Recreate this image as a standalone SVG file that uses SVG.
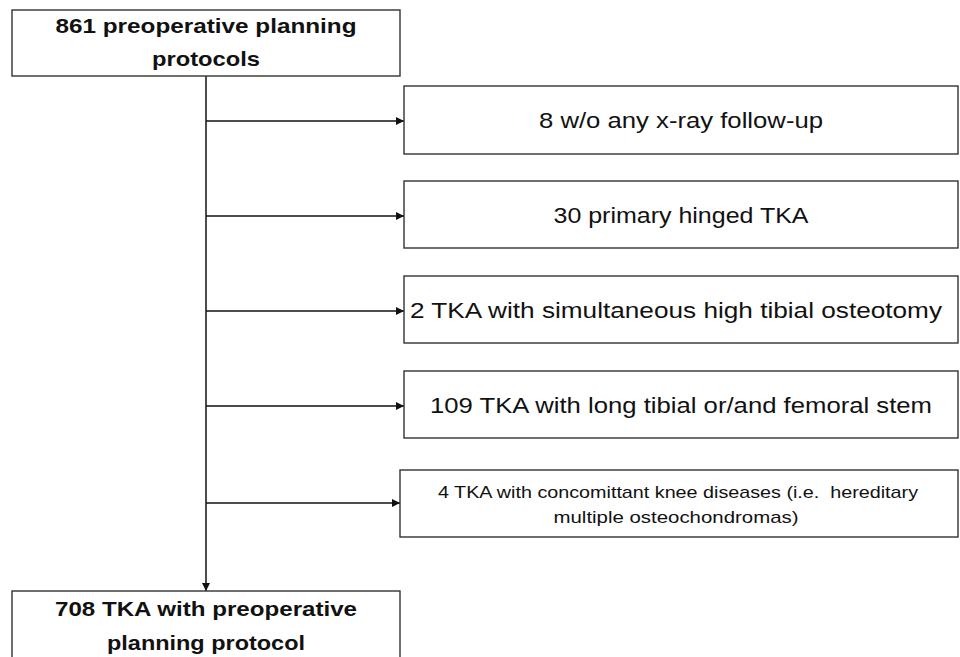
<svg xmlns="http://www.w3.org/2000/svg" width="960" height="657" viewBox="0 0 960 657">
<style>
.box{fill:#fff;stroke:#333;stroke-width:1.4}
.ln{stroke:#111;stroke-width:1.5;fill:none}
.b{font-family:"Liberation Sans",Arial,sans-serif;font-weight:bold;font-size:21px;fill:#111;text-anchor:middle}
.r{font-family:"Liberation Sans",Arial,sans-serif;font-size:22px;fill:#111;text-anchor:middle}
.s{font-family:"Liberation Sans",Arial,sans-serif;font-size:17px;fill:#111;text-anchor:middle}
</style>
<defs>
<marker id="ah" markerWidth="8" markerHeight="8" refX="8" refY="4" orient="auto" markerUnits="userSpaceOnUse">
<path d="M0,0 L8,4 L0,8 Z" fill="#111"/>
</marker>
</defs>
<rect width="960" height="657" fill="#fff"/>
<g id="connectors">
<line class="ln" x1="206" y1="76" x2="206" y2="591" marker-end="url(#ah)"/>
<line class="ln" x1="206" y1="121" x2="404" y2="121" marker-end="url(#ah)"/>
<line class="ln" x1="206" y1="216" x2="404" y2="216" marker-end="url(#ah)"/>
<line class="ln" x1="206" y1="311" x2="404" y2="311" marker-end="url(#ah)"/>
<line class="ln" x1="206" y1="406" x2="404" y2="406" marker-end="url(#ah)"/>
<line class="ln" x1="206" y1="503" x2="400" y2="503" marker-end="url(#ah)"/>
</g>
<g id="start">
<rect class="box" x="12" y="10" width="388" height="66"/>
<text class="b" x="206" y="33" textLength="301" lengthAdjust="spacingAndGlyphs">861 preoperative planning</text>
<text class="b" x="206" y="66" textLength="108" lengthAdjust="spacingAndGlyphs">protocols</text>
</g>
<g id="ex1">
<rect class="box" x="404" y="86" width="554" height="68"/>
<text class="r" x="681" y="128" textLength="284" lengthAdjust="spacingAndGlyphs">8 w/o any x-ray follow-up</text>
</g>
<g id="ex2">
<rect class="box" x="404" y="181" width="554" height="67"/>
<text class="r" x="681" y="223" textLength="255" lengthAdjust="spacingAndGlyphs">30 primary hinged TKA</text>
</g>
<g id="ex3">
<rect class="box" x="404" y="276" width="554" height="67"/>
<text class="r" x="676" y="318" textLength="532" lengthAdjust="spacingAndGlyphs">2 TKA with simultaneous high tibial osteotomy</text>
</g>
<g id="ex4">
<rect class="box" x="404" y="371" width="554" height="67"/>
<text class="r" x="681" y="413" textLength="502" lengthAdjust="spacingAndGlyphs">109 TKA with long tibial or/and femoral stem</text>
</g>
<g id="ex5">
<rect class="box" x="400" y="470" width="558" height="67"/>
<text class="s" x="678" y="498" textLength="480" lengthAdjust="spacingAndGlyphs">4 TKA with concomittant knee diseases (i.e.&#160; hereditary</text>
<text class="s" x="676" y="523" textLength="245" lengthAdjust="spacingAndGlyphs">multiple osteochondromas)</text>
</g>
<g id="end">
<rect class="box" x="12" y="591" width="388" height="80"/>
<text class="b" x="206" y="616" textLength="302" lengthAdjust="spacingAndGlyphs">708 TKA with preoperative</text>
<text class="b" x="206" y="650" textLength="198" lengthAdjust="spacingAndGlyphs">planning protocol</text>
</g>
</svg>
